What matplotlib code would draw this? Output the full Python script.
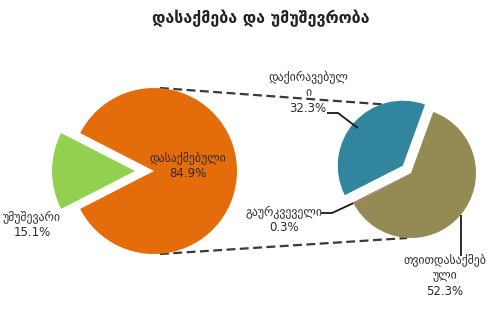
import numpy as np
import matplotlib
matplotlib.use("Agg")
import matplotlib.pyplot as plt

# data
title = "დასაქმება და უმუშევრობა"
main_labels = ["დასაქმებული", "უმუშევარი"]
main_vals = [84.9, 15.1]
sub_labels = ["დაქირავებულ\nი", "გაურკვეველი", "თვითდასაქმებ\nული"]
sub_vals = [32.3, 0.3, 52.3]

main_colors = ["#E46C0A", "#92D050"]
sub_colors = ["#31859C", "#C0504D", "#948A54"]
txt = "#2b2b2b"

W, H = 502, 316
fig = plt.figure(figsize=(W / 100, H / 100), dpi=100)
ax = fig.add_axes([0, 0, 1, 1])

def Y(py):
    return H - py

# main pie, small slice pushed out to the left (explode is in data units here)
c1, r1 = (154, Y(171)), 83
start1 = 180 + main_vals[1] * 3.6 / 2
w1, _ = ax.pie(main_vals, colors=main_colors, center=c1, radius=r1,
               startangle=start1, explode=[0, 19],
               wedgeprops=dict(linewidth=0), frame=True)

# second pie splitting the employed slice
c2, r2 = (411, Y(173)), 65
w2, _ = ax.pie(sub_vals, colors=sub_colors, center=c2, radius=r2,
               startangle=70, explode=[11, 0, 0],
               wedgeprops=dict(linewidth=0), frame=True)
ax.set_xlim(0, W)
ax.set_ylim(0, H)
ax.set_aspect("equal")
ax.axis("off")

# dashed connectors top/bottom
ax.plot([160, 405], [c1[1] + r1, Y(106)], ls=(0, (4, 2)), color="#3a3a3a",
        lw=1.6, zorder=0)
ax.plot([160, 407], [c1[1] - r1, c2[1] - r2], ls=(0, (4, 2)), color="#3a3a3a",
        lw=1.6, zorder=0)

def edge_pt(w, ang, frac=1.0):
    cx, cy = w.center
    a = np.deg2rad(ang)
    return cx + w.r * frac * np.cos(a), cy + w.r * frac * np.sin(a)

ax.text(261, Y(18), title, ha="center", va="center", fontsize=11.5,
        fontweight="bold", color="#222222")

fs = 8.5
# main pie labels
ax.text(188, Y(166), f"{main_labels[0]}\n{main_vals[0]}%", ha="center",
        va="center", fontsize=fs, color=txt, linespacing=1.25)
ax.text(32, Y(225), f"{main_labels[1]}\n{main_vals[1]}%", ha="center",
        va="center", fontsize=fs, color=txt, linespacing=1.25)

# second pie labels with elbow leader lines
lk = dict(color="#1a1a1a", lw=1.3, solid_capstyle="butt")
ax.text(308, Y(93), f"{sub_labels[0]}\n{sub_vals[0]}%", ha="center",
        va="center", fontsize=fs, color=txt, linespacing=1.25)
p = edge_pt(w2[0], 140, 0.9)
ax.plot([327, 338, p[0]], [Y(113), Y(113), p[1]], **lk)

ax.text(284, Y(220), f"{sub_labels[1]}\n{sub_vals[1]}%", ha="center",
        va="center", fontsize=fs, color=txt, linespacing=1.25)
p = edge_pt(w2[1], 207.6, 1.0)
ax.plot([321, 332, p[0]], [Y(213), Y(213), p[1]], **lk)

p = edge_pt(w2[2], -40)
ax.text(445, Y(276), f"{sub_labels[2]}\n{sub_vals[2]}%", ha="center",
        va="center", fontsize=fs, color=txt, linespacing=1.25)
ax.plot([p[0], p[0]], [p[1], Y(256)], **lk)

fig.savefig("out.png", dpi=100)
